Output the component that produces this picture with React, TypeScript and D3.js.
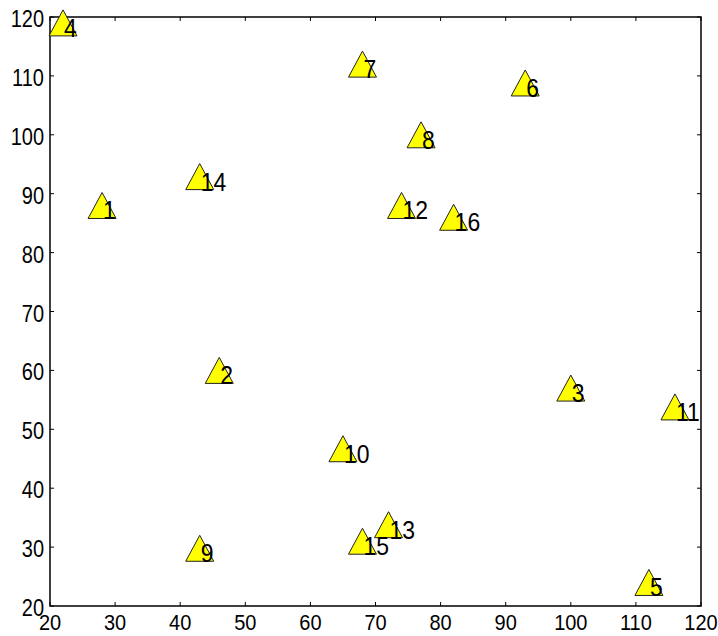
import React from "react";
import * as d3 from "d3";

const pointIds = [1, 2, 3, 4, 5, 6, 7, 8, 9, 10, 11, 12, 13, 14, 15, 16];
const xValues = [28, 46, 100, 22, 112, 93, 68, 77, 43, 65, 116, 74, 72, 43, 68, 82];
const yValues = [88, 60, 57, 119, 24, 108.8, 112, 100, 29.8, 46.7, 53.8, 88, 33.8, 92.9, 31, 86];
const xTicks = [20, 30, 40, 50, 60, 70, 80, 90, 100, 110, 120];
const yTicks = [20, 30, 40, 50, 60, 70, 80, 90, 100, 110, 120];

const W = 718;
const H = 636;
const left = 50;
const right = 701;
const top = 17;
const bottom = 606;

export default function App() {
  const x = d3.scaleLinear().domain([20, 120]).range([left, right]);
  const y = d3.scaleLinear().domain([20, 120]).range([bottom, top]);
  const tw = 28;
  const th = 26;
  const triPath = `M0,${-th / 2} L${tw / 2},${th / 2} L${-tw / 2},${th / 2} Z`;
  const font = "'Liberation Sans', Arial, Helvetica, sans-serif";
  const tickLen = 4;
  return (
    <svg
      width={W}
      height={H}
      style={{ position: "absolute", left: 0, top: 0, background: "#fff" }}
      xmlns="http://www.w3.org/2000/svg"
    >
      <rect x={0} y={0} width={W} height={H} fill="#fff" />
      {xTicks.map((t) => (
        <g key={"xt" + t}>
          <line x1={x(t)} x2={x(t)} y1={bottom} y2={bottom - tickLen} stroke="#000" strokeWidth={1} />
          <line x1={x(t)} x2={x(t)} y1={top} y2={top + tickLen} stroke="#000" strokeWidth={1} />
          <text
            x={0}
            y={0}
            transform={`translate(${x(t)},${630}) scale(1,1.12)`}
            textAnchor="middle"
            fontFamily={font}
            fontSize={20}
            fill="#000"
          >
            {t}
          </text>
        </g>
      ))}
      {yTicks.map((t) => (
        <g key={"yt" + t}>
          <line x1={left} x2={left + tickLen} y1={y(t)} y2={y(t)} stroke="#000" strokeWidth={1} />
          <line x1={right} x2={right - tickLen} y1={y(t)} y2={y(t)} stroke="#000" strokeWidth={1} />
          <text
            x={0}
            y={0}
            transform={`translate(${44},${y(t) + 10}) scale(1,1.15)`}
            textAnchor="end"
            fontFamily={font}
            fontSize={20}
            fill="#000"
          >
            {t}
          </text>
        </g>
      ))}
      <rect
        x={left}
        y={top}
        width={right - left}
        height={bottom - top}
        fill="none"
        stroke="#000"
        strokeWidth={1.5}
      />
      {pointIds.map((id, i) => (
        <path
          key={"p" + id}
          d={triPath}
          transform={`translate(${x(xValues[i])},${y(yValues[i])})`}
          fill="#ffff00"
          stroke="#222"
          strokeWidth={1}
        />
      ))}
      {pointIds.map((id, i) => (
        <text
          key={"l" + id}
          x={0}
          y={0}
          transform={`translate(${x(xValues[i]) + 1},${y(yValues[i]) + 14}) scale(1,1.15)`}
          fontFamily={font}
          fontSize={23}
          fill="#000"
        >
          {id}
        </text>
      ))}
    </svg>
  );
}
